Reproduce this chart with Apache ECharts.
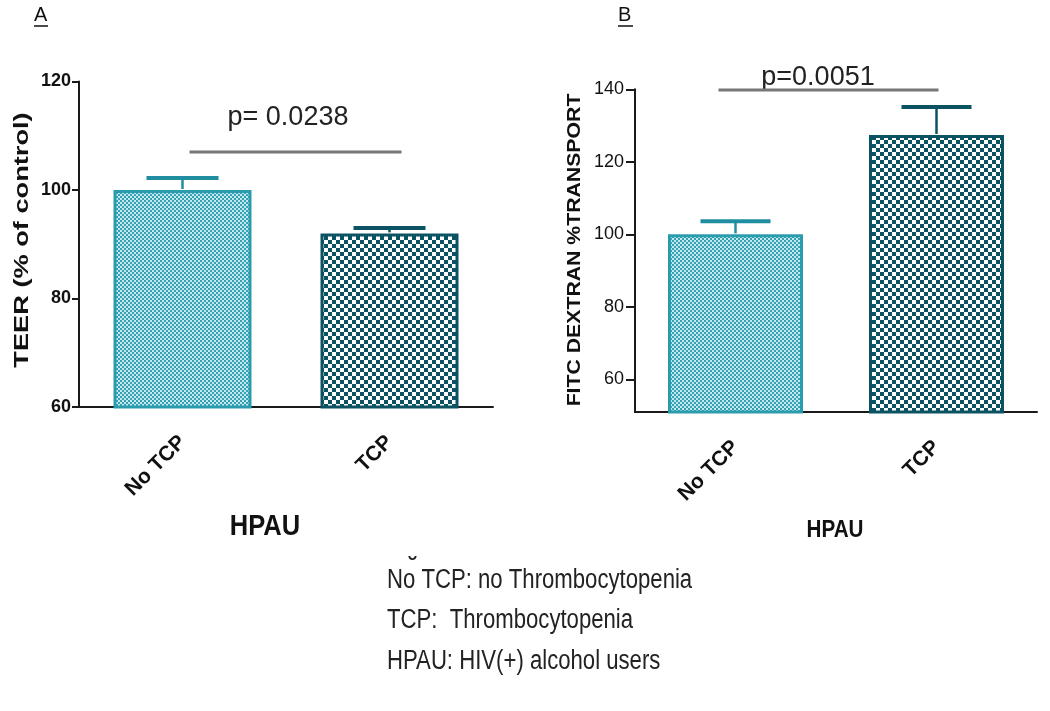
<!DOCTYPE html>
<html>
<head>
<meta charset="utf-8">
<script src="https://cdn.jsdelivr.net/npm/echarts@6/dist/echarts.min.js"></script>
<style>
html,body{margin:0;padding:0;background:#fff;}
#main{width:1050px;height:711px;}
</style>
</head>
<body>
<div id="main"></div>
<script>
// ---- data ----
const categories = ['No TCP', 'TCP'];
const teerMean = [100, 92];
const teerUpper = [102.2, 93.0];
const fitcMean = [100, 127.4];
const fitcUpper = [103.6, 135.1];
const teerTicks = [60, 80, 100, 120];
const fitcTicks = [60, 80, 100, 120, 140];
const sigLevels = [107, 139.8];
const pLabels = ['p= 0.0238', 'p=0.0051'];
const panelLabels = ['A', 'B'];
const yTitles = ['TEER (% of control)', 'FITC DEXTRAN %TRANSPORT'];
const xTitle = 'HPAU';
const footnotes = ['No TCP: no Thrombocytopenia', 'TCP:  Thrombocytopenia', 'HPAU: HIV(+) alcohol users'];

// ---- patterns ----
function makePattern(size, cell, bg, fg) {
  const c = document.createElement('canvas');
  c.width = size; c.height = size;
  const g = c.getContext('2d');
  g.fillStyle = bg; g.fillRect(0, 0, size, size);
  g.fillStyle = fg;
  g.fillRect(0, 0, cell, cell);
  g.fillRect(cell, cell, cell, cell);
  return { image: c, repeat: 'repeat' };
}
const fineTeal = makePattern(4, 2, '#c4e8ee', '#35a2b3');
const coarseDark = makePattern(8, 4, '#ffffff', '#0b5262');
const barFills = [fineTeal, coarseDark];
const barBorders = ['#2a9cae', '#0b5262'];
const errColors = ['#1f8ea0', '#0b5262'];

const FONT = "'Liberation Sans', Arial, sans-serif";

function barData(vals) {
  return vals.map((v, i) => ({
    value: v,
    itemStyle: { color: barFills[i], borderColor: barBorders[i], borderWidth: 3 }
  }));
}
function errData(mean, upper) {
  return mean.map((m, i) => [i, m, upper[i]]);
}
function errRender(halfCap) {
  return function (params, api) {
    const i = api.value(0);
    const p0 = api.coord([i, api.value(1)]);
    const p1 = api.coord([i, api.value(2)]);
    const col = errColors[i];
    return {
      type: 'group',
      children: [
        { type: 'line', shape: { x1: p0[0], y1: p0[1] - 1, x2: p1[0], y2: p1[1] }, style: { stroke: col, lineWidth: 2.5 } },
        { type: 'line', shape: { x1: p1[0] - halfCap, y1: p1[1], x2: p1[0] + halfCap, y2: p1[1] }, style: { stroke: col, lineWidth: 4 } }
      ]
    };
  };
}
function sigRender(offL, offR) {
  return function (params, api) {
    const a = api.coord([0, api.value(0)]);
    const b = api.coord([1, api.value(0)]);
    return {
      type: 'line',
      shape: { x1: a[0] + offL, y1: a[1], x2: b[0] + offR, y2: b[1] },
      style: { stroke: '#777777', lineWidth: 3 }
    };
  };
}

const axisLineStyle = { color: '#1a1a1a', width: 2 };

const chart = echarts.init(document.getElementById('main'));
chart.setOption({
  backgroundColor: '#ffffff',
  animation: false,
  grid: [
    { left: 79, top: 81.5, width: 414, height: 325.5 },
    { left: 635, top: 89.3, width: 402, height: 322.7 }
  ],
  xAxis: [0, 1].map(g => ({
    type: 'category',
    gridIndex: g,
    data: categories,
    boundaryGap: true,
    axisLine: { lineStyle: axisLineStyle },
    axisTick: { alignWithLabel: true, length: 8, lineStyle: { color: '#1a1a1a', width: 2 } },
    axisLabel: { rotate: 45, margin: 32, fontSize: 21, fontWeight: 'bold', color: '#111', fontFamily: FONT, interval: 0 },
    splitLine: { show: false }
  })),
  yAxis: [
    {
      type: 'value', gridIndex: 0, min: 60, max: 120, interval: 20,
      axisLine: { show: true, lineStyle: axisLineStyle },
      axisTick: { show: true, length: 7, lineStyle: { color: '#1a1a1a', width: 2 }, customValues: teerTicks },
      axisLabel: { fontSize: 18, fontWeight: 'bold', color: '#111', margin: 8, fontFamily: FONT, customValues: teerTicks },
      splitLine: { show: false }
    },
    {
      type: 'value', gridIndex: 1, min: 51, max: 140,
      axisLine: { show: true, lineStyle: axisLineStyle },
      axisTick: { show: true, length: 9, lineStyle: { color: '#1a1a1a', width: 2 }, customValues: fitcTicks },
      axisLabel: { fontSize: 18, color: '#111', margin: 11, fontFamily: FONT, customValues: fitcTicks },
      splitLine: { show: false }
    }
  ],
  series: [
    { type: 'bar', xAxisIndex: 0, yAxisIndex: 0, data: barData(teerMean), barWidth: 138, z: 2 },
    { type: 'bar', xAxisIndex: 1, yAxisIndex: 1, data: barData(fitcMean), barWidth: 135, z: 2 },
    { type: 'custom', xAxisIndex: 0, yAxisIndex: 0, data: errData(teerMean, teerUpper), renderItem: errRender(36), z: 3 },
    { type: 'custom', xAxisIndex: 1, yAxisIndex: 1, data: errData(fitcMean, fitcUpper), renderItem: errRender(35), z: 3 },
    { type: 'custom', xAxisIndex: 0, yAxisIndex: 0, data: [[sigLevels[0]]], renderItem: sigRender(7, 12), z: 3 },
    { type: 'custom', xAxisIndex: 1, yAxisIndex: 1, data: [[sigLevels[1]]], renderItem: sigRender(-17, 2), z: 3 }
  ],
  graphic: [
    { type: 'text', left: 34, top: 5, style: { text: panelLabels[0], fontSize: 20, fill: '#111', fontFamily: FONT } },
    { type: 'line', shape: { x1: 34, y1: 26, x2: 48, y2: 26 }, style: { stroke: '#111', lineWidth: 1.5 } },
    { type: 'text', left: 618, top: 5, style: { text: panelLabels[1], fontSize: 20, fill: '#111', fontFamily: FONT } },
    { type: 'line', shape: { x1: 618, y1: 26, x2: 633, y2: 26 }, style: { stroke: '#111', lineWidth: 1.5 } },
    { type: 'text', x: 22, y: 240, rotation: Math.PI / 2, scaleX: 1.36,
      style: { text: yTitles[0], fontSize: 20, fontWeight: 'bold', fill: '#111', fontFamily: FONT, align: 'center', verticalAlign: 'middle' } },
    { type: 'text', x: 575, y: 250, rotation: Math.PI / 2, scaleX: 1.18,
      style: { text: yTitles[1], fontSize: 18, fontWeight: 'bold', fill: '#111', fontFamily: FONT, align: 'center', verticalAlign: 'middle' } },
    { type: 'text', x: 288, y: 118, style: { text: pLabels[0], fontSize: 27, fill: '#222', fontFamily: FONT, align: 'center', verticalAlign: 'middle' } },
    { type: 'text', x: 818, y: 78, style: { text: pLabels[1], fontSize: 27, fill: '#222', fontFamily: FONT, align: 'center', verticalAlign: 'middle' } },
    { type: 'text', x: 265, y: 527, scaleX: 0.88, style: { text: xTitle, fontSize: 29, fontWeight: 'bold', fill: '#111', fontFamily: FONT, align: 'center', verticalAlign: 'middle' } },
    { type: 'text', x: 835, y: 530, scaleX: 0.86, style: { text: xTitle, fontSize: 24, fontWeight: 'bold', fill: '#111', fontFamily: FONT, align: 'center', verticalAlign: 'middle' } },
    { type: 'text', x: 413, y: 567, style: { text: '\u02D8', fontSize: 24, fontWeight: 'bold', fill: '#222', fontFamily: FONT, align: 'center', verticalAlign: 'middle' } },
    { type: 'text', x: 387, y: 581, scaleX: 0.82, style: { text: footnotes[0], fontSize: 27, fill: '#222', fontFamily: FONT, verticalAlign: 'middle' } },
    { type: 'text', x: 387, y: 621, scaleX: 0.82, style: { text: footnotes[1], fontSize: 27, fill: '#222', fontFamily: FONT, verticalAlign: 'middle' } },
    { type: 'text', x: 387, y: 662, scaleX: 0.82, style: { text: footnotes[2], fontSize: 27, fill: '#222', fontFamily: FONT, verticalAlign: 'middle' } }
  ]
});
</script>
</body>
</html>
